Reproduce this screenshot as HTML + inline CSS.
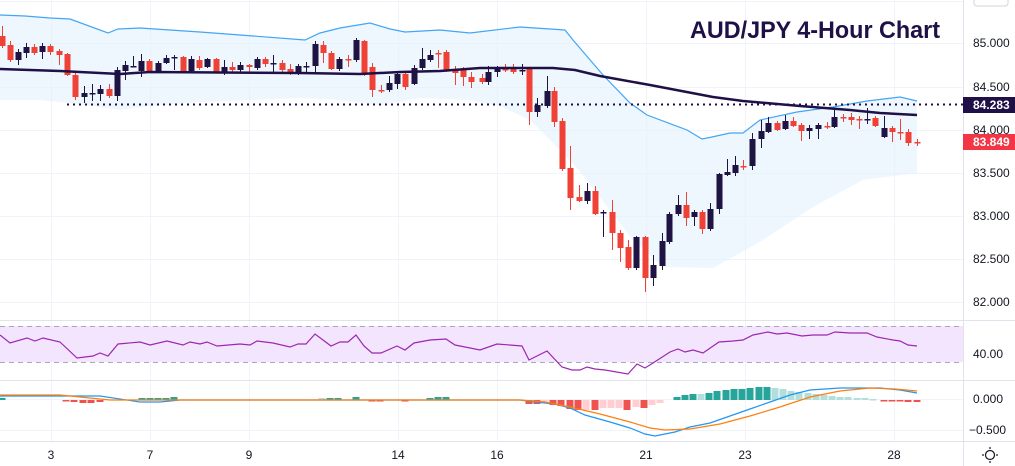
<!DOCTYPE html>
<html><head><meta charset="utf-8">
<style>
html,body{margin:0;padding:0;background:#fff;}
body{width:1015px;height:466px;overflow:hidden;font-family:"Liberation Sans",sans-serif;}
svg{display:block}
</style></head>
<body>
<svg id="s" width="1015" height="466" xmlns="http://www.w3.org/2000/svg" font-family="Liberation Sans, sans-serif">
<g stroke="#f0f3fa" stroke-width="1">
<line x1="0" y1="43.5" x2="963" y2="43.5"/><line x1="0" y1="87.5" x2="963" y2="87.5"/>
<line x1="0" y1="130.5" x2="963" y2="130.5"/><line x1="0" y1="173.5" x2="963" y2="173.5"/>
<line x1="0" y1="216.5" x2="963" y2="216.5"/><line x1="0" y1="259.5" x2="963" y2="259.5"/>
<line x1="0" y1="302.5" x2="963" y2="302.5"/><line x1="0" y1="1.5" x2="963" y2="1.5"/>
<line x1="0" y1="354.5" x2="963" y2="354.5"/><line x1="0" y1="399.5" x2="963" y2="399.5"/><line x1="0" y1="430.5" x2="963" y2="430.5"/>
<line x1="51.5" y1="0" x2="51.5" y2="441"/><line x1="150.5" y1="0" x2="150.5" y2="441"/>
<line x1="249.5" y1="0" x2="249.5" y2="441"/><line x1="398.5" y1="0" x2="398.5" y2="441"/>
<line x1="497.5" y1="0" x2="497.5" y2="441"/><line x1="646.5" y1="0" x2="646.5" y2="441"/>
<line x1="745.5" y1="0" x2="745.5" y2="441"/><line x1="894.5" y1="0" x2="894.5" y2="441"/>
</g>
<g stroke="#e0e3eb" stroke-width="1">
<line x1="0" y1="320.5" x2="1015" y2="320.5"/><line x1="0" y1="380.5" x2="1015" y2="380.5"/>
<line x1="0" y1="441.5" x2="1015" y2="441.5"/><line x1="963.5" y1="0" x2="963.5" y2="466"/>
</g>
<path fill="#e3f2fd" fill-opacity="0.6" d="M0,15 L25,16 L50,18 L70,19 L108,33 L118,29 L140,28 L200,32 L240,35 L305,40 L320,33 L340,28 L370,23 L390,29 L405,32 L440,30 L470,33 L520,27 L565,30 L573,40 L603,75 L630,103 L647,115 L687,130 L702,139 L712,137 L730,133 L743,133 L760,120 L797,112 L833,107 L867,101 L900,97 L917,101 L917,173 L863,180 L813,207 L763,240 L713,268 L663,267 L633,240 L577,168 L555,145 L530,120 L500,106 L470,100 L420,98 L380,105 L340,100 L300,98 L250,100 L200,102 L150,106 L120,110 L80,104 L40,100 L0,100 Z"/>
<polyline fill="none" stroke="#42a5f5" stroke-width="1.2" points="0,15 25,16 50,18 70,19 108,33 118,29 140,28 200,32 240,35 305,40 320,33 340,28 370,23 390,29 405,32 440,30 470,33 520,27 565,30 573,40 603,75 630,103 647,115 687,130 702,139 712,137 730,133 743,133 760,120 797,112 833,107 867,101 900,97 917,101"/>
<line x1="67" y1="104.5" x2="963" y2="104.5" stroke="#1f1147" stroke-width="2" stroke-dasharray="2,4"/>
<g id="candles"></g>
<polyline fill="none" stroke="#1f1147" stroke-width="2.5" points="0,69 60,71 120,74 150,72 300,73 360,74 400,72 440,71 480,68 553,68 575,70 600,76 650,85 713,97 743,101 800,106 850,110 880,113 917,115"/>
<rect x="0" y="326" width="963" height="36" fill="#f3e5fd"/>
<line x1="0" y1="326.5" x2="963" y2="326.5" stroke="#a8a8b8" stroke-dasharray="5,4"/>
<line x1="0" y1="362.5" x2="963" y2="362.5" stroke="#a8a8b8" stroke-dasharray="5,4"/>
<polyline fill="none" stroke="#9c27b0" stroke-width="1.2" points="0,335 10,343 27,338 35,341 43,338 60,342 77,358 93,356 100,353 108,356 118,344 140,342 150,345 167,341 183,345 190,342 200,344 207,342 217,346 240,344 250,345 257,341 273,343 290,347 298,344 306,344 315,334 323,340 331,346 340,342 348,342 356,335 364,346 372,353 381,353 397,346 405,350 414,343 430,340 446,339 455,345 480,350 497,344 522,346 529,360 547,351 562,367 572,370 580,370 587,367 595,369 605,370 628,374 637,364 645,368 653,363 670,352 678,349 685,352 693,350 703,353 719,342 733,341 743,340 753,335 768,332 777,334 787,333 802,336 813,335 827,335 835,332 850,333 867,333 877,337 893,340 900,341 908,345 917,346"/>
<g id="hist"></g>
<polyline fill="none" stroke="#2196f3" stroke-width="1.2" points="0,396 100,396 140,402 160,402 180,400 520,400 535,402 555,404 570,408 585,415 610,422 630,428 645,434 655,436 665,434 675,432 690,427 710,423 730,416 750,409 770,402 790,395 810,390 840,388 880,388 900,390 917,393"/>
<polyline fill="none" stroke="#ff7f0e" stroke-width="1.2" points="0,395 60,395 110,400 180,400 520,400 545,402 570,407 600,414 630,422 650,428 665,430 690,429 720,424 750,416 780,407 810,397 840,391 870,388 895,389 917,391"/>
<text x="690" y="38" font-size="24" font-weight="bold" fill="#1f1147" textLength="250" lengthAdjust="spacingAndGlyphs">AUD/JPY 4-Hour Chart</text>
<g font-size="12" fill="#131722">
<text x="973" y="47">85.000</text><text x="973" y="91">84.500</text><text x="973" y="134">84.000</text>
<text x="973" y="177">83.500</text><text x="973" y="220">83.000</text><text x="973" y="263">82.500</text>
<text x="973" y="306">82.000</text><text x="973" y="358">40.00</text><text x="973" y="403">0.000</text>
<text x="969" y="434">−0.500</text>
</g>
<rect x="963" y="97" width="52" height="16" fill="#1f1147"/>
<text x="973" y="109" font-size="12" font-weight="bold" fill="#fff">84.283</text>
<rect x="963" y="134" width="52" height="16" fill="#f23645"/>
<text x="973" y="146" font-size="12" font-weight="bold" fill="#fff">83.849</text>
<rect x="974" y="-6" width="34" height="12" rx="3" fill="#fff" stroke="#d1d4dc"/>
<g font-size="12" fill="#131722" text-anchor="middle">
<text x="51" y="459">3</text><text x="150" y="459">7</text><text x="249" y="459">9</text>
<text x="398" y="459">14</text><text x="497" y="459">16</text><text x="646" y="459">21</text>
<text x="745" y="459">23</text><text x="894" y="459">28</text>
</g>
<g stroke="#131722" stroke-width="1.2" fill="none"><circle cx="990" cy="455" r="4.5"/>
<line x1="990" y1="447" x2="990" y2="449"/><line x1="990" y1="461" x2="990" y2="463"/><line x1="982" y1="455" x2="984" y2="455"/><line x1="996" y1="455" x2="998" y2="455"/></g>
</svg>
<script>
var D="#1e1343",R="#ef4136";
var c=[
[2,36,46,0,26,48],[10,45,60,0,41,62],[18,52,60,1,49,65],[26,47,53,1,43,58],[34,47,53,0,44,55],[42,46,52,1,43,59],[50,46,52,0,44,55],[59,51,55,0,49,65],[67,54,75,0,53,76],[75,75,97,0,72,100],
[84,93,97,1,86,103],[92,93,94,1,84,101],[100,89,94,1,85,101],[109,89,96,0,84,98],[117,70,96,1,67,101],[125,65,71,1,61,80],[133,66,67,1,56,67],[141,61,71,1,54,77],[149,61,71,0,59,72],[158,63,71,1,61,73],
[166,58,63,1,55,64],[174,57,58,1,55,70],[183,57,71,0,56,72],[191,59,71,1,56,73],[199,60,68,0,56,70],[207,59,67,1,58,68],[216,59,72,0,58,73],[224,67,72,1,60,75],[232,67,70,0,62,72],[240,65,70,1,62,73],
[249,65,67,0,64,73],[257,59,68,1,57,70],[265,59,64,0,57,67],[273,63,64,1,55,72],[282,63,70,0,60,72],[290,69,73,0,64,75],[298,66,73,1,64,75],[306,66,67,1,62,73],[315,44,66,1,41,72],[323,45,53,0,41,63],
[331,53,69,0,51,70],[339,59,69,1,57,71],[348,59,60,0,55,67],[356,40,60,1,38,62],[364,41,73,0,40,76],[372,67,90,0,63,97],[381,90,91,0,85,93],[389,83,90,1,76,92],[397,74,84,1,73,89],[405,74,87,0,73,90],
[414,68,84,1,65,85],[422,59,68,1,48,70],[430,55,60,1,50,62],[438,53,54,0,50,68],[446,52,70,0,50,72],[455,70,73,0,66,85],[463,70,77,0,67,86],[471,77,82,0,72,88],[482,78,82,0,74,84],[488,72,82,1,66,85],
[497,68,72,1,66,77],[505,69,70,0,64,72],[513,68,72,0,64,74],[522,70,71,1,64,75],[529,69,112,0,68,125],[537,105,112,1,98,117],[547,91,106,1,76,108],[554,91,122,0,87,127],[562,121,169,0,118,171],[570,168,198,0,146,210],
[579,197,201,0,185,202],[587,191,201,1,183,204],[595,191,214,0,186,215],[603,212,213,1,210,237],[612,212,233,0,200,250],[620,233,248,0,230,262],[628,247,268,0,240,270],[636,237,268,1,236,270],[645,237,278,0,236,292],[653,265,278,1,255,286],
[662,241,266,1,233,270],[669,214,242,1,212,244],[678,205,214,1,195,216],[686,205,218,0,192,226],[694,212,217,1,210,226],[702,212,229,0,210,234],[710,209,229,1,203,231],[719,174,209,1,173,214],[727,172,175,1,159,176],[735,165,173,1,156,176],
[743,166,167,0,160,170],[752,139,166,1,133,170],[761,131,139,1,120,148],[768,123,132,1,117,133],[777,123,130,0,121,131],[785,121,129,1,115,130],[793,121,126,0,117,127],[801,125,131,0,123,141],[809,128,131,1,125,139],[818,125,129,1,123,139],
[827,126,127,0,122,129],[834,117,127,1,110,128],[843,117,118,0,114,122],[851,117,120,0,113,125],[859,119,120,0,116,129],[867,119,120,1,108,124],[875,118,126,0,116,127],[884,128,137,1,116,138],[892,128,132,0,126,142],[900,132,133,0,119,140],
[908,132,143,0,129,146],[917,142,143,0,139,146]];
var h='';
c.forEach(function(k){var col=k[3]?D:R;var x=k[0];
h+='<line x1="'+(x+0.5)+'" y1="'+k[4]+'" x2="'+(x+0.5)+'" y2="'+k[5]+'" stroke="'+col+'" stroke-width="1"/>';
var bh=Math.max(1.5,k[2]-k[1]);
h+='<rect x="'+(x-2.5)+'" y="'+k[1]+'" width="6" height="'+bh+'" fill="'+col+'"/>';});
document.getElementById('candles').innerHTML=h;
var g='';
var Z=400;
function bar(x,y,col){var t=Math.min(y,Z),b=Math.max(y,Z);if(b-t<1.5){b=t+1.5;}g+='<rect x="'+(x-3.5)+'" y="'+t+'" width="7" height="'+(b-t)+'" fill="'+col+'"/>';}
[[2,398,"#26a69a"],[66,401,"#ef5350"],[74,402,"#ef5350"],[83,403,"#ef5350"],[91,403,"#ef5350"],[100,402,"#ef5350"],[142,398,"#26a69a"],[150,398,"#26a69a"],[158,398,"#26a69a"],[166,398,"#26a69a"],[174,397,"#26a69a"],[322,398,"#b2dfdb"],[330,398,"#26a69a"],[338,398,"#26a69a"],[356,397,"#26a69a"],[372,401,"#ef5350"],[380,401,"#ef5350"],[405,401,"#ef5350"],[430,398,"#26a69a"],[438,397,"#26a69a"],[446,397,"#26a69a"]].forEach(function(b){bar(b[0],b[1],b[2]);});
var hx=[[529,404,"#ef5350"],[537,404,"#ef5350"],[545,401,"#ffcdd2"],[553,405,"#ef5350"],[561,406,"#ef5350"],[570,409,"#ef5350"],[578,410,"#ef5350"],[586,410,"#ffcdd2"],[595,410,"#ef5350"],[603,408,"#ffcdd2"],[611,408,"#ffcdd2"],[619,408,"#ffcdd2"],[627,410,"#ef5350"],[636,407,"#ffcdd2"],[644,408,"#ef5350"],[652,405,"#ffcdd2"],[660,403,"#ffcdd2"],
[677,397,"#26a69a"],[685,395,"#26a69a"],[693,394,"#26a69a"],[701,394,"#b2dfdb"],[709,393,"#26a69a"],[717,391,"#26a69a"],[726,390,"#26a69a"],[734,389,"#26a69a"],[742,389,"#26a69a"],[750,388,"#26a69a"],[759,387,"#26a69a"],[767,387,"#26a69a"],
[775,388,"#b2dfdb"],[783,389,"#b2dfdb"],[791,391,"#b2dfdb"],[799,392,"#b2dfdb"],[808,393,"#b2dfdb"],[816,394,"#b2dfdb"],[824,395,"#b2dfdb"],[832,396,"#b2dfdb"],[840,397,"#b2dfdb"],[848,397,"#b2dfdb"],[857,398,"#b2dfdb"],[865,398,"#b2dfdb"],[873,399,"#b2dfdb"],
[884,401,"#ef5350"],[892,401,"#ef5350"],[900,401,"#ef5350"],[908,402,"#ef5350"],[917,402,"#ef5350"]];
hx.forEach(function(b){bar(b[0],b[1],b[2]);});
document.getElementById('hist').innerHTML=g;
</script>
</body></html>
